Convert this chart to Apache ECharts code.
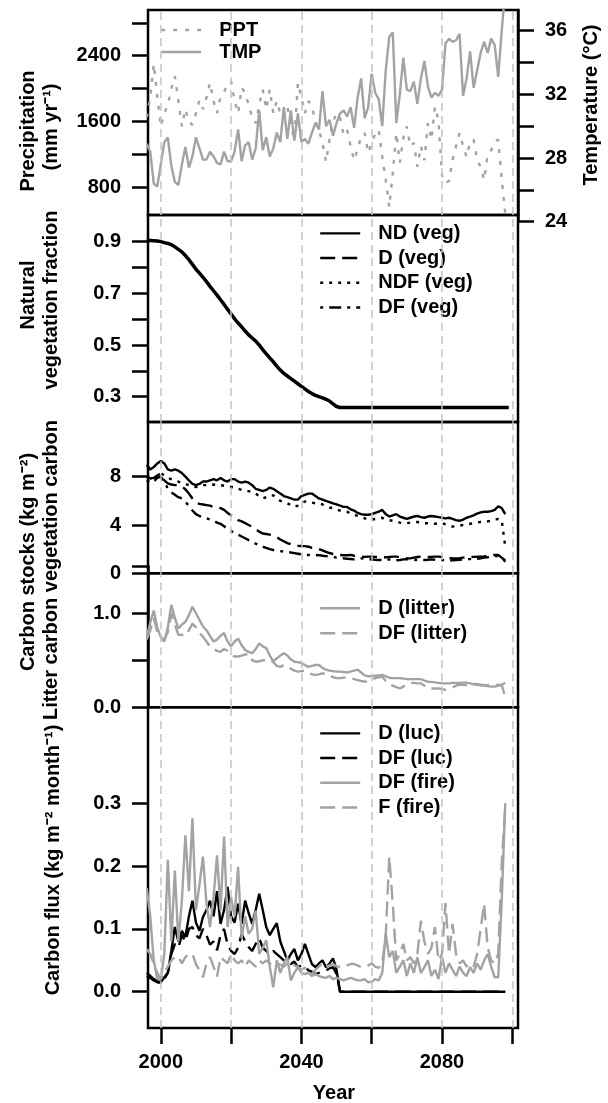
<!DOCTYPE html>
<html><head><meta charset="utf-8">
<script src="https://cdn.jsdelivr.net/npm/echarts@6/dist/echarts.min.js"></script>
<style>html,body{margin:0;padding:0;background:#fff}#c{width:608px;height:1103px}</style>
</head><body><div id="c"></div>
<script>
// ---------------- DATA ----------------
const years = [1996,1997,1998,1999,2000,2001,2002,2003,2004,2005,2006,2007,2008,2009,2010,2011,2012,2013,2014,2015,
2016,2017,2018,2019,2020,2021,2022,2023,2024,2025,2026,2027,2028,2029,2030,2031,2032,2033,2034,2035,
2036,2037,2038,2039,2040,2041,2042,2043,2044,2045,2046,2047,2048,2049,2050,2051,2052,2053,2054,2055,
2056,2057,2058,2059,2060,2061,2062,2063,2064,2065,2066,2067,2068,2069,2070,2071,2072,2073,2074,2075,
2076,2077,2078,2079,2080,2081,2082,2083,2084,2085,2086,2087,2088,2089,2090,2091,2092,2093,2094,2095,
2096,2097,2098,2099];
const gridYears = [2000,2020,2040,2060,2080,2100];
const xTickYears = [2000,2020,2040,2060,2080,2100];
const xLabelYears = [2000,2040,2080];

// Panel 1: precipitation (mm/yr) and temperature (deg C)
const ppt = [1650,1900,2300,1900,1540,1700,1800,2000,2150,1850,
1540,1750,1600,1560,1700,1860,1750,1890,2070,1850,
1700,1900,1960,2050,2090,1850,1700,2010,1950,1800,
1650,1580,1800,1990,1750,1990,1700,1850,1700,1650,
1780,1550,1380,2070,1900,1700,1850,1780,1600,1500,
1340,1110,1380,1600,1700,1650,1440,1500,1300,1130,
1260,1420,1460,1220,1340,1450,1500,1170,890,560,
970,1460,1100,1400,1540,1300,1340,1050,1300,1130,
1580,1380,1780,1620,950,850,880,1130,1300,1460,
1300,1170,1350,1380,1130,1050,890,1200,1250,1350,
1380,900,480,null];
const tmp = [28.9,28.4,26.4,26.2,27.6,29.0,29.3,27.5,26.5,26.3,
27.6,28.7,27.4,28.1,29.3,28.6,27.9,27.9,28.4,28.1,
27.7,27.6,28.4,27.8,27.8,28.4,29.8,27.8,28.8,29.0,
27.9,28.6,31.0,28.5,29.3,28.1,28.6,29.6,29.0,31.2,
29.2,31.0,29.1,30.8,29.0,29.2,28.9,29.6,30.2,29.8,
32.2,30.0,30.4,29.4,30.2,30.8,31.0,30.6,31.2,29.9,
31.8,33.0,30.5,31.2,33.3,32.1,31.7,30.0,33.5,35.6,
35.9,30.2,32.0,34.3,32.3,32.2,32.8,31.4,33.0,34.1,
32.5,31.8,32.1,31.9,32.3,35.2,35.5,35.3,35.4,35.8,
31.9,33.0,34.7,32.4,33.5,34.6,35.3,34.6,35.5,35.1,
33.1,36.0,38.5,null];

// Panel 2: natural vegetation fraction
const vegFrac = [0.905,0.904,0.903,0.902,0.900,0.896,0.893,0.888,0.880,0.870,
0.860,0.846,0.830,0.812,0.793,0.778,0.762,0.745,0.727,0.710,
0.693,0.675,0.657,0.638,0.620,0.601,0.585,0.570,0.554,0.539,
0.527,0.515,0.500,0.482,0.466,0.450,0.435,0.418,0.403,0.390,
0.380,0.370,0.360,0.350,0.340,0.330,0.320,0.312,0.305,0.300,
0.295,0.290,0.283,0.272,0.262,0.258,0.258,0.258,0.258,0.258,
0.258,0.258,0.258,0.258,0.258,0.258,0.258,0.258,0.258,0.258,
0.258,0.258,0.258,0.258,0.258,0.258,0.258,0.258,0.258,0.258,
0.258,0.258,0.258,0.258,0.258,0.258,0.258,0.258,0.258,0.258,
0.258,0.258,0.258,0.258,0.258,0.258,0.258,0.258,0.258,0.258,
0.258,0.258,0.258,0.258];

// Panel 3: vegetation carbon (kg m-2)
const ndVeg = [9.0,8.6,8.8,9.1,9.3,9.1,8.6,8.5,8.6,8.5,
8.3,8.0,7.7,7.4,7.3,7.4,7.6,7.6,7.7,7.8,
7.7,7.9,7.7,7.6,7.8,7.8,7.6,7.5,7.6,7.5,
7.3,7.0,6.9,6.8,6.9,7.1,7.0,6.8,6.6,6.4,
6.3,6.2,6.1,6.1,6.4,6.5,6.6,6.6,6.4,6.2,
6.1,6.0,5.9,5.8,5.7,5.6,5.5,5.5,5.3,5.2,
5.0,4.9,4.85,4.85,4.9,5.0,5.1,5.25,4.9,4.7,
4.8,4.9,4.7,4.6,4.5,4.6,4.7,4.75,4.65,4.6,
4.7,4.75,4.7,4.65,4.6,4.55,4.6,4.5,4.4,4.35,
4.45,4.6,4.7,4.8,4.95,5.05,5.1,5.1,5.15,5.25,
5.55,5.4,4.9,null];
const dVeg = [8.0,7.85,7.9,8.1,8.25,7.7,7.45,7.35,7.3,7.3,
7.2,6.95,6.6,6.2,5.85,5.75,5.7,5.65,5.6,5.5,
5.45,5.4,5.25,5.0,4.8,4.6,4.4,4.3,4.15,4.0,
3.85,3.65,3.45,3.3,3.25,3.2,3.15,3.0,2.8,2.65,
2.5,2.4,2.32,2.28,2.26,2.25,2.2,2.1,2.05,2.0,
1.9,1.78,1.68,1.6,1.55,1.52,1.5,1.5,1.52,1.45,
1.4,1.38,1.36,1.38,1.38,1.36,1.35,1.33,1.32,1.35,
1.38,1.38,1.33,1.28,1.25,1.24,1.3,1.35,1.38,1.36,
1.35,1.36,1.38,1.38,1.35,1.3,1.27,1.24,1.24,1.26,
1.3,1.33,1.35,1.36,1.37,1.38,1.4,1.45,1.5,1.52,
1.52,1.3,1.05,null];
const ndfVeg = [8.1,7.9,7.8,8.1,8.3,8.1,7.9,7.8,7.7,7.6,
7.45,7.4,7.3,7.2,7.15,7.2,7.3,7.3,7.3,7.35,
7.3,7.3,7.25,7.2,7.15,7.1,7.0,6.9,6.85,6.8,
6.75,6.6,6.4,6.2,6.3,6.45,6.45,6.2,6.0,5.9,
5.8,5.65,5.5,5.6,5.8,5.95,5.9,5.85,5.8,5.8,
5.7,5.55,5.45,5.4,5.3,5.2,5.15,5.1,4.95,4.85,
4.75,4.65,4.55,4.45,4.45,4.5,4.55,4.6,4.45,4.4,
4.35,4.3,4.2,4.15,4.15,4.2,4.25,4.25,4.2,4.15,
4.15,4.15,4.1,4.15,4.15,4.05,3.95,3.87,3.9,3.95,
4.0,4.05,4.1,4.15,4.2,4.25,4.25,4.3,4.35,4.45,
4.5,4.4,2.2,null];
const dfVeg = [7.7,7.5,7.6,7.9,8.0,7.6,7.0,6.7,6.5,6.3,
6.2,5.9,5.6,5.2,4.9,4.75,4.6,4.55,4.45,4.35,
4.2,4.1,3.9,3.65,3.5,3.35,3.2,3.05,2.9,2.75,
2.6,2.45,2.34,2.2,2.1,2.0,1.93,1.88,1.84,1.8,
1.78,1.72,1.67,1.62,1.57,1.53,1.52,1.52,1.52,1.5,
1.45,1.42,1.38,1.36,1.3,1.26,1.24,1.2,1.18,1.15,
1.2,1.24,1.22,1.18,1.15,1.12,1.1,1.1,1.12,1.15,
1.1,1.08,1.1,1.15,1.17,1.15,1.12,1.1,1.1,1.1,
1.12,1.15,1.12,1.1,1.1,1.08,1.05,1.08,1.1,1.12,
1.15,1.17,1.17,1.17,1.2,1.25,1.3,1.33,1.4,1.45,
1.4,1.38,0.95,null];

// Panel 4: litter carbon (kg m-2)
const dLitter = [0.75,0.9,1.03,0.85,0.75,0.70,0.85,1.09,0.95,0.84,
0.88,0.91,0.98,1.07,1.0,0.93,0.86,0.82,0.76,0.70,
0.72,0.76,0.79,0.70,0.65,0.70,0.73,0.66,0.61,0.59,
0.575,0.62,0.68,0.65,0.63,0.55,0.49,0.52,0.55,0.575,
0.55,0.51,0.485,0.48,0.47,0.45,0.43,0.44,0.45,0.45,
0.42,0.40,0.39,0.385,0.38,0.38,0.375,0.37,0.38,0.39,
0.40,0.37,0.34,0.33,0.33,0.335,0.34,0.345,0.33,0.315,
0.31,0.31,0.31,0.305,0.30,0.30,0.30,0.30,0.30,0.285,
0.272,0.27,0.265,0.26,0.255,0.255,0.255,0.26,0.26,0.26,
0.262,0.262,0.255,0.245,0.24,0.235,0.23,0.225,0.22,0.22,
0.23,0.24,0.262,null];
const dfLitter = [0.72,0.82,0.95,0.8,0.74,0.72,0.8,1.0,0.88,0.77,
0.77,0.76,0.82,0.89,0.85,0.79,0.75,0.7,0.645,0.62,
0.6,0.59,0.62,0.6,0.56,0.54,0.54,0.55,0.56,0.57,
0.5,0.485,0.49,0.5,0.5,0.51,0.48,0.44,0.43,0.45,
0.44,0.41,0.39,0.38,0.385,0.39,0.37,0.35,0.345,0.35,
0.36,0.36,0.34,0.32,0.31,0.31,0.315,0.32,0.31,0.3,
0.29,0.28,0.275,0.272,0.29,0.31,0.32,0.326,0.28,0.24,
0.23,0.215,0.2,0.22,0.25,0.26,0.26,0.255,0.255,0.23,
0.2,0.2,0.2,0.2,0.195,0.185,0.19,0.21,0.23,0.24,
0.24,0.237,0.245,0.25,0.245,0.24,0.235,0.237,0.24,0.24,
0.237,0.237,0.113,null];

// Panel 5: carbon flux (kg m-2 month-1)
const dLuc = [0.03,0.025,0.02,0.017,0.015,0.023,0.03,0.065,0.103,0.08,
0.097,0.087,0.12,0.145,0.11,0.097,0.119,0.13,0.145,0.12,
0.16,0.108,0.13,0.167,0.12,0.11,0.14,0.108,0.145,0.125,
0.108,0.13,0.156,0.13,0.103,0.09,0.1,0.109,0.08,0.065,
0.05,0.06,0.068,0.05,0.06,0.076,0.06,0.044,0.039,0.045,
0.05,0.039,0.045,0.053,0.035,0,0,0,0,0,
0,0,0,0,0,0,0,0,0,0,
0,0,0,0,0,0,0,0,0,0,
0,0,0,0,0,0,0,0,0,0,
0,0,0,0,0,0,0,0,0,0,
0,0,0,null];
const dfLuc = [0.025,0.022,0.018,0.015,0.014,0.02,0.03,0.06,0.076,0.07,
0.09,0.08,0.1,0.103,0.09,0.085,0.1,0.09,0.075,0.08,
0.066,0.09,0.1,0.075,0.065,0.06,0.07,0.092,0.08,0.071,
0.065,0.076,0.085,0.07,0.065,0.06,0.065,0.06,0.055,0.05,
0.047,0.044,0.048,0.039,0.042,0.04,0.034,0.032,0.028,0.03,
0.032,0.034,0.037,0.039,0.028,0,0,0,0,0,
0,0,0,0,0,0,0,0,0,0,
0,0,0,0,0,0,0,0,0,0,
0,0,0,0,0,0,0,0,0,0,
0,0,0,0,0,0,0,0,0,0,
0,0,0,null];
const dfFire = [0.165,0.12,0.05,0.02,0.02,0.06,0.21,0.08,0.193,0.08,
0.145,0.249,0.16,0.276,0.13,0.17,0.215,0.14,0.103,0.15,
0.217,0.13,0.247,0.103,0.15,0.12,0.199,0.085,0.12,0.092,
0.1,0.129,0.06,0.07,0.082,0.04,0.007,0.05,0.03,0.045,
0.055,0.018,0.03,0.039,0.03,0.028,0.03,0.025,0.028,0.025,
0.023,0.022,0.025,0.02,0.022,0.02,0.018,0.02,0.022,0.02,
0.018,0.018,0.02,0.015,0.016,0.02,0.018,0.03,0.092,0.055,
0.065,0.03,0.04,0.05,0.025,0.045,0.03,0.055,0.03,0.039,
0.05,0.025,0.035,0.02,0.055,0.03,0.045,0.035,0.025,0.04,
0.03,0.025,0.039,0.03,0.045,0.035,0.05,0.06,0.04,0.023,
0.023,0.145,0.3,null];
const fFire = [0.068,0.06,0.045,0.03,0.02,0.03,0.04,0.05,0.055,0.056,
0.045,0.055,0.06,0.06,0.044,0.034,0.023,0.045,0.055,0.04,
0.024,0.055,0.05,0.045,0.06,0.05,0.045,0.05,0.04,0.05,
0.045,0.04,0.05,0.045,0.05,0.045,0.04,0.045,0.043,0.04,
0.045,0.038,0.042,0.04,0.035,0.038,0.032,0.028,0.035,0.04,
0.046,0.04,0.042,0.044,0.04,0.04,0.039,0.042,0.044,0.044,
0.042,0.039,0.04,0.042,0.045,0.04,0.038,0.045,0.09,0.215,
0.14,0.05,0.06,0.076,0.05,0.055,0.045,0.06,0.113,0.08,
0.06,0.07,0.103,0.05,0.06,0.141,0.06,0.108,0.06,0.045,
0.05,0.04,0.045,0.04,0.06,0.1,0.14,0.07,0.05,0.045,
0.06,0.205,0.295,null];

// Axis ticks / labels
const pptTicks = [800,1200,1600,2000,2400,2800], pptLabels = [800,1600,2400];
const tmpTicks = [24,26,28,30,32,34,36], tmpLabels = [24,28,32,36];
const vegTicks = [0.3,0.4,0.5,0.6,0.7,0.8,0.9], vegLabels = [0.3,0.5,0.7,0.9];
const vcTicks = [0,4,8], vcLabels = [0,4,8];
const litTicks = [0,0.5,1.0,1.5], litLabels = [0,1.0];
const fluxTicks = [0,0.1,0.2,0.3], fluxLabels = [0,0.1,0.2,0.3];

// ---------------- STYLE ----------------
const FONT = '"Liberation Sans", Arial, Helvetica, sans-serif';
const GRAY = '#a3a3a3';
const X0 = 1996.36, X1 = 2101.63;
const GL = 148, GW = 370;
const pair = arr => years.map((y, i) => [y, arr[i]]);

const grids = [
  {top: 10, height: 205, show: true},      // 0 panel 1 frame (PPT)
  {top: 10, height: 211.7, show: false},   // 1 temperature axis
  {top: 215, height: 207, show: true},     // 2 panel 2
  {top: 422, height: 151.3, show: true},   // 3 panel 3
  {top: 573.3, height: 134, show: true},   // 4 panel 4 frame
  {top: 566.3, height: 141, show: false},  // 5 litter axis
  {top: 707.3, height: 320.7, show: true}  // 6 panel 5
].map(g => Object.assign({left: GL, width: GW, borderColor: '#000', borderWidth: 2.5,
  backgroundColor: 'transparent', outerBoundsMode: 'none', containLabel: false}, g));

const labelBase = {fontSize: 20, fontWeight: 'bold', color: '#000', fontFamily: FONT, margin: 27};
const tickBase = {show: true, length: 16, inside: false, lineStyle: {color: '#000', width: 2.5}};

const xAxes = grids.map((g, i) => {
  const last = i === 6;
  return {
    type: 'value', gridIndex: i, min: X0, max: X1, position: 'bottom',
    axisLine: {show: false, onZero: false}, splitLine: {show: false},
    axisTick: last ? Object.assign({}, tickBase, {customValues: xTickYears}) : {show: false},
    axisLabel: last ? Object.assign({}, labelBase, {margin: 24, customValues: xLabelYears,
      formatter: v => String(Math.round(v))}) : {show: false}
  };
});

function yAx(gi, min, max, ticks, labels, opts) {
  opts = opts || {};
  return {
    type: 'value', gridIndex: gi, min: min, max: max, position: opts.position || 'left',
    axisLine: {show: !!opts.line, onZero: false, lineStyle: {color: '#000', width: 2.5}},
    splitLine: {show: false},
    axisTick: ticks ? Object.assign({}, tickBase, {customValues: ticks}) : {show: false},
    axisLabel: labels ? Object.assign({}, labelBase, {customValues: labels,
      formatter: opts.dec ? (v => Number(v).toFixed(opts.dec)) : (v => String(Math.round(v)))}) : {show: false}
  };
}
const yAxes = [
  yAx(0, 463, 2956, pptTicks, pptLabels),
  yAx(1, 24, 37.3, tmpTicks, tmpLabels, {position: 'right', line: true}),
  yAx(2, 0.202, 1.003, vegTicks, vegLabels, {dec: 1}),
  yAx(3, 0, 12.53, vcTicks, vcLabels),
  yAx(4, 0, 1.4255, null, null),
  yAx(5, 0, 1.5, litTicks, litLabels, {dec: 1, line: true}),
  yAx(6, -0.0578, 0.4529, fluxTicks, fluxLabels, {dec: 1})
];

const gridMarks = {
  silent: true, symbol: ['none', 'none'], label: {show: false}, animation: false,
  lineStyle: {color: '#c4c4c4', type: [8, 5], width: 1.5},
  emphasis: {disabled: true},
  data: gridYears.map(y => ({xAxis: y}))
};

function line(name, gi, arr, color, type, width, marks) {
  const s = {
    name: name, type: 'line', xAxisIndex: gi, yAxisIndex: gi, data: pair(arr),
    symbol: 'none', showSymbol: false, silent: true, clip: true, connectNulls: false,
    lineStyle: {color: color, width: width || 2.4, type: type || 'solid'},
    itemStyle: {color: color}, emphasis: {disabled: true}
  };
  if (marks) s.markLine = gridMarks;
  return s;
}

const DASH = [15, 7], DOT = [3, 6], PPTDASH = [4, 8], DOTDASH = [3, 6, 12, 6];

const series = [
  line('PPT', 0, ppt, GRAY, PPTDASH, 2.4, true),
  line('TMP', 1, tmp, GRAY, 'solid', 2.4),
  line('Natural vegetation fraction', 2, vegFrac, '#000', 'solid', 3.5, true),
  line('ND (veg)', 3, ndVeg, '#000', 'solid', 2.4, true),
  line('D (veg)', 3, dVeg, '#000', DASH, 2.4),
  line('NDF (veg)', 3, ndfVeg, '#000', DOT, 2.4),
  line('DF (veg)', 3, dfVeg, '#000', DOTDASH, 2.4),
  line('D (litter)', 4, dLitter, GRAY, 'solid', 2.4, true),
  line('DF (litter)', 4, dfLitter, GRAY, DASH, 2.4),
  line('D (luc)', 6, dLuc, '#000', 'solid', 2.4, true),
  line('DF (luc)', 6, dfLuc, '#000', DASH, 2.4),
  line('DF (fire)', 6, dfFire, GRAY, 'solid', 2.4),
  line('F (fire)', 6, fFire, GRAY, DASH, 2.4)
];

function legend(names, left, top, lh) {
  return {
    data: names, orient: 'vertical', left: left, top: top, padding: 0, itemGap: 0,
    itemWidth: 40, itemHeight: 14, selectedMode: false,
    itemStyle: {opacity: 0, borderWidth: 0},
    lineStyle: {width: 2.4},
    textStyle: {fontSize: 20, fontWeight: 'bold', color: '#000', fontFamily: FONT,
      lineHeight: lh, padding: [0, 0, 0, 13]}
  };
}
const legends = [
  legend(['PPT', 'TMP'], 160, 19, 22),
  legend(['ND (veg)', 'D (veg)', 'NDF (veg)', 'DF (veg)'], 319, 221, 24.7),
  legend(['D (litter)', 'DF (litter)'], 319, 595.8, 25),
  legend(['D (luc)', 'DF (luc)', 'DF (fire)', 'F (fire)'], 319, 721, 24.7)
];

function title(text, x, y, rot) {
  return {type: 'text', x: x, y: y, rotation: rot === undefined ? Math.PI / 2 : rot, silent: true,
    style: {text: text, fill: '#000', font: 'bold 20px ' + FONT,
      align: 'center', verticalAlign: 'middle', textAlign: 'center', textVerticalAlign: 'middle'}};
}
const titles = [
  title('Precipitation', 28, 131),
  title('(mm yr\u207B\u00B9)', 51, 127),
  title('Temperature (\u00B0C)', 591, 105),
  title('Natural', 28, 295),
  title('vegetation fraction', 51, 300),
  title('Carbon stocks (kg m\u207B\u00B2)', 28, 562),
  title('Litter carbon vegetation carbon', 51, 570),
  title('Carbon flux (kg m\u207B\u00B2 month\u207B\u00B9)', 53, 860),
  title('Year', 334, 1093, 0)
];

const chart = echarts.init(document.getElementById('c'), null, {renderer: 'canvas', width: 608, height: 1103});
chart.setOption({
  animation: false,
  backgroundColor: '#fff',
  grid: grids,
  xAxis: xAxes,
  yAxis: yAxes,
  legend: legends,
  series: series,
  graphic: {elements: titles}
});
</script></body></html>
